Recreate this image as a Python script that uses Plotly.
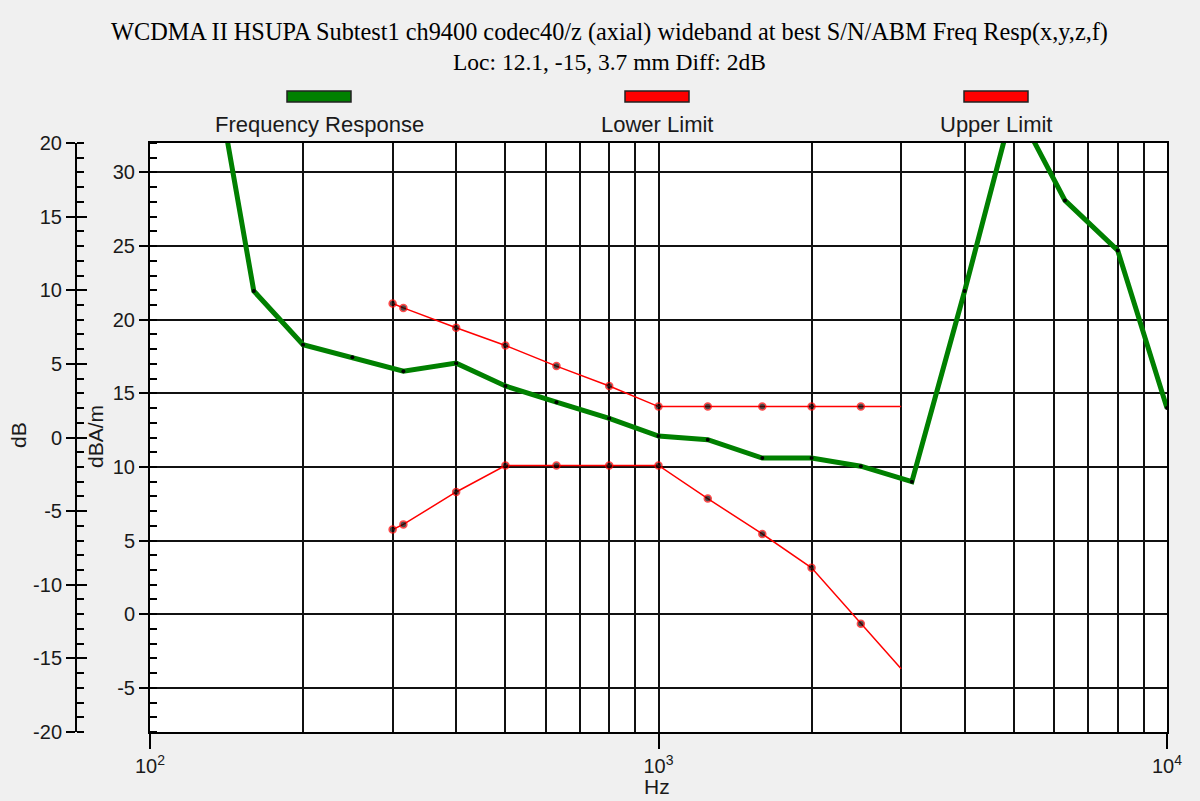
import plotly.graph_objects as go

# ---- data ----
fr_name = "Frequency Response"
lower_name = "Lower Limit"
upper_name = "Upper Limit"

fr_freq = [125, 160, 200, 250, 315, 400, 500, 630, 800, 1000, 1250, 1600,
           2000, 2500, 3150, 4000, 5000, 6300, 8000, 10000]
fr_db = [31.0, 9.95, 6.3, 5.45, 4.5, 5.05, 3.5, 2.4, 1.3, 0.1, -0.15, -1.4,
         -1.4, -1.95, -3.0, 9.95, 22.7, 16.1, 12.7, 2.0]

lim_freq = [300, 315, 400, 500, 630, 800, 1000, 1250, 1600, 2000, 2500, 3000]
upper_db = [9.1, 8.8, 7.45, 6.25, 4.85, 3.5, 2.1, 2.1, 2.1, 2.1, 2.1, 2.1]
lower_db = [-6.25, -5.9, -3.7, -1.9, -1.9, -1.9, -1.9, -4.15, -6.55, -8.85, -12.65, -15.7]
lim_marker = [7] * 11 + [0]

x_tickvals = [100, 1000, 10000]
x_ticktext = ["10<sup>2</sup>", "10<sup>3</sup>", "10<sup>4</sup>"]
x_minor = [200, 300, 400, 500, 600, 700, 800, 900,
           2000, 3000, 4000, 5000, 6000, 7000, 8000, 9000]

db_ticks = [-20, -15, -10, -5, 0, 5, 10, 15, 20]
dbam_ticks = [-5, 0, 5, 10, 15, 20, 25, 30]

title1 = "WCDMA II HSUPA Subtest1 ch9400 codec40/z (axial) wideband at best S/N/ABM Freq Resp(x,y,z,f)"
title2 = "Loc: 12.1, -15, 3.7 mm Diff: 2dB"

# ---- layout geometry ----
W, H = 1200, 801
ML, MR, MT, MB = 0, 33, 143, 69
PW = W - ML - MR
PH = H - MT - MB
x0 = 150 / PW
outer_pos = 76 / PW

SANS = "Liberation Sans, Arial, sans-serif"
SERIF = "Liberation Serif, Times New Roman, serif"
TXT = "#1a1a1a"
GRID = "#111111"


def px(x):
    return (x - ML) / PW


def py(y):
    return 1 + (MT - y) / PH


fig = go.Figure()

# empty helper traces so the two axis-only y axes are drawn
fig.add_trace(go.Scatter(x=[None], y=[None], yaxis="y", mode="lines",
                         showlegend=False, hoverinfo="skip"))
fig.add_trace(go.Scatter(x=[None], y=[None], yaxis="y3", mode="lines",
                         showlegend=False, hoverinfo="skip"))

fig.add_trace(go.Scatter(
    x=fr_freq, y=fr_db, yaxis="y2", name=fr_name, mode="lines+markers",
    line=dict(color="#008000", width=5),
    marker=dict(color="black", size=4, line=dict(width=0)),
    showlegend=False))

fig.add_trace(go.Scatter(
    x=lim_freq, y=lower_db, yaxis="y2", name=lower_name, mode="lines+markers",
    line=dict(color="#ff0000", width=1.5),
    marker=dict(color="black", size=lim_marker, line=dict(color="#ff0000", width=1.5)),
    showlegend=False))

fig.add_trace(go.Scatter(
    x=lim_freq, y=upper_db, yaxis="y2", name=upper_name, mode="lines+markers",
    line=dict(color="#ff0000", width=1.5),
    marker=dict(color="black", size=lim_marker, line=dict(color="#ff0000", width=1.5)),
    showlegend=False))

fig.update_layout(
    width=W, height=H,
    margin=dict(l=ML, r=MR, t=MT, b=MB),
    paper_bgcolor="#f0f0f0",
    plot_bgcolor="white",
    showlegend=False,
    xaxis=dict(
        type="log", range=[2, 4], domain=[x0, 1],
        tickmode="array", tickvals=x_tickvals, ticktext=x_ticktext,
        ticks="outside", ticklen=15, tickwidth=1.5, tickcolor="black",
        showgrid=True, gridcolor=GRID, gridwidth=1.5,
        minor=dict(tickmode="array", tickvals=x_minor, showgrid=True,
                   gridcolor=GRID, gridwidth=1.5, ticks=""),
        showline=True, linecolor="black", linewidth=2, mirror=True,
        tickfont=dict(family=SANS, size=20, color=TXT),
        zeroline=False, automargin=False,
    ),
    yaxis=dict(
        range=[-8, 32], anchor="x",
        tickmode="array", tickvals=dbam_ticks, ticktext=[str(v) for v in dbam_ticks],
        ticks="outside", ticklen=9, tickwidth=1.5, tickcolor="black",
        showgrid=True, gridcolor=GRID, gridwidth=1.5,
        minor=dict(ticks="inside", dtick=1, tick0=0, ticklen=7,
                   tickwidth=1.5, tickcolor="black", showgrid=False),
        showline=True, linecolor="black", linewidth=2, mirror=True,
        tickfont=dict(family=SANS, size=20, color=TXT),
        zeroline=False, automargin=False,
    ),
    yaxis2=dict(
        range=[-20, 20], overlaying="y", anchor="free", position=outer_pos,
        side="left",
        tickmode="array", tickvals=db_ticks, ticktext=[str(v) for v in db_ticks],
        ticks="outside", ticklen=9, tickwidth=1.5, tickcolor="black",
        showgrid=False,
        minor=dict(ticks="inside", dtick=1, tick0=0, ticklen=7,
                   tickwidth=1.5, tickcolor="black", showgrid=False),
        showline=True, linecolor="black", linewidth=2,
        tickfont=dict(family=SANS, size=20, color=TXT),
        zeroline=False, automargin=False,
    ),
    yaxis3=dict(
        range=[-20, 20], overlaying="y", anchor="free", position=outer_pos,
        side="left",
        tickmode="array", tickvals=db_ticks,
        ticks="inside", ticklen=10, tickwidth=1.5, tickcolor="black",
        showticklabels=False, showgrid=False, showline=False,
        zeroline=False, automargin=False,
    ),
)

anns = []
for t, yy, fs in [(title1, 32, 24.3), (title2, 62, 23.5)]:
    anns.append(dict(text=t, xref="paper", yref="paper",
                     x=px(609), y=py(yy),
                     showarrow=False, xanchor="center", yanchor="middle",
                     font=dict(family=SERIF, size=fs, color="black")))

# legend: swatch above label
legend_items = [(fr_name, "#008000", 319), (lower_name, "#ff0000", 657), (upper_name, "#ff0000", 996)]
shapes = []
for name, col, cx in legend_items:
    shapes.append(dict(type="rect", xref="paper", yref="paper",
                       x0=px(cx - 32), x1=px(cx + 32),
                       y0=py(102), y1=py(91),
                       fillcolor=col, line=dict(color="#222222", width=1.5)))
    anns.append(dict(text=name, xref="paper", yref="paper",
                     x=px(cx), y=py(125),
                     showarrow=False, xanchor="center", yanchor="middle",
                     font=dict(family=SANS, size=22, color=TXT)))

# axis titles
anns.append(dict(text="dB", xref="paper", yref="paper", x=px(18), y=py(435),
                 textangle=-90, showarrow=False, xanchor="center", yanchor="middle",
                 font=dict(family=SANS, size=21, color=TXT)))
anns.append(dict(text="dBA/m", xref="paper", yref="paper", x=px(95), y=py(437),
                 textangle=-90, showarrow=False, xanchor="center", yanchor="middle",
                 font=dict(family=SANS, size=21, color=TXT)))
anns.append(dict(text="Hz", xref="paper", yref="paper", x=px(657), y=py(786),
                 showarrow=False, xanchor="center", yanchor="middle",
                 font=dict(family=SANS, size=21, color=TXT)))

fig.update_layout(annotations=anns, shapes=shapes)

fig.write_html(
    "out.html",
    config={"displayModeBar": False},
    post_script="document.body.style.margin='0';document.body.style.backgroundColor='#f0f0f0';",
)
